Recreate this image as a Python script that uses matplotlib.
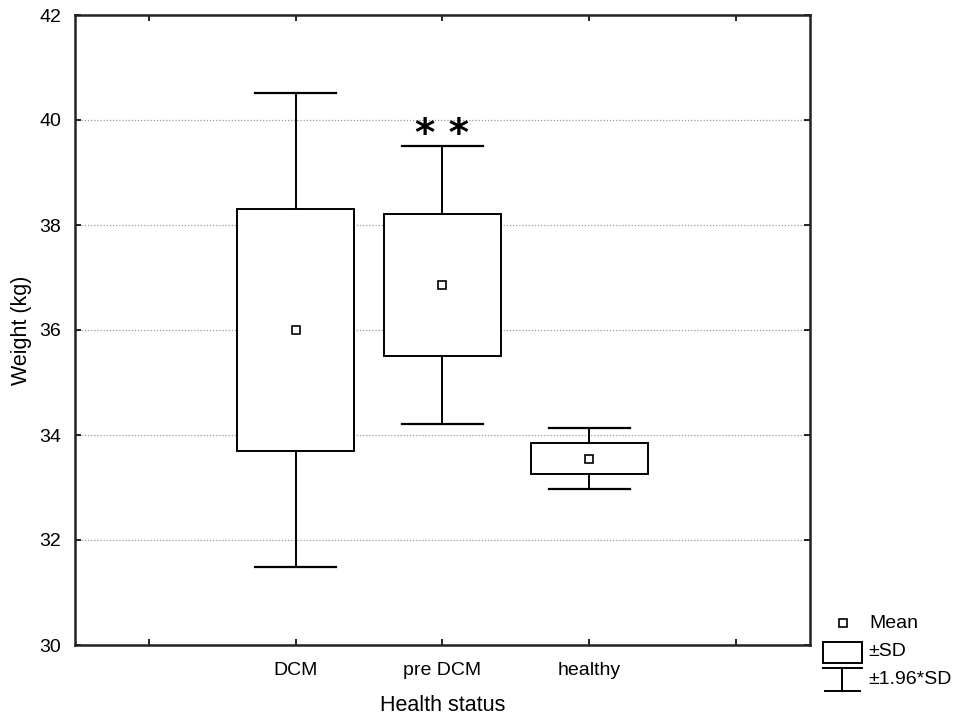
import matplotlib.pyplot as plt
from matplotlib.patches import Rectangle

plt.rcParams['font.family'] = ['Liberation Sans', 'DejaVu Sans']

groups = ['DCM', 'pre DCM', 'healthy']
means = [36.0, 36.85, 33.55]
sds = [2.3, 1.35, 0.3]
k = 1.96

fig = plt.figure(figsize=(9.64, 7.2), dpi=100)
ax = fig.add_axes([75 / 964, 75 / 720, 735 / 964, 630 / 720])

pos = [1, 2, 3]
box_w = 0.8
cap_w = 0.55
for x, m, s in zip(pos, means, sds):
    lo, hi = m - k * s, m + k * s
    ax.add_patch(Rectangle((x - box_w / 2, m - s), box_w, 2 * s,
                           facecolor='white', edgecolor='black', lw=1.4, zorder=3))
    ax.plot([x, x], [hi, m + s], color='black', lw=1.4, zorder=3)
    ax.plot([x, x], [m - s, lo], color='black', lw=1.4, zorder=3)
    ax.plot([x - cap_w / 2, x + cap_w / 2], [hi, hi], color='black', lw=1.6, zorder=3)
    ax.plot([x - cap_w / 2, x + cap_w / 2], [lo, lo], color='black', lw=1.6, zorder=3)
    ax.plot(x, m, marker='s', ms=6, mfc='white', mec='black', mew=1.2, zorder=4)

# significance mark over pre DCM
ax.text(2, means[1] + k * sds[1] - 0.14, '* *', ha='center', va='bottom',
        fontsize=28, fontweight='bold', family='DejaVu Sans')

ax.set_xlim(-0.5, 4.5)
ax.set_ylim(30, 42)
ax.set_xticks([0, 1, 2, 3, 4])
ax.set_xticklabels([''] + groups + [''])
ax.set_yticks([30, 32, 34, 36, 38, 40, 42])
ax.tick_params(direction='in', length=4, width=1.2, labelsize=14, colors='black',
               top=True, right=True)
ax.tick_params(axis='x', pad=12)
ax.tick_params(axis='y', pad=10)
for sp in ax.spines.values():
    sp.set_linewidth(1.8)
    sp.set_color('#222222')
ax.yaxis.grid(True, linestyle=(0, (1, 1.5)), color='#999999', lw=0.9)
ax.set_axisbelow(True)
ax.set_xlabel('Health status', fontsize=15.5, labelpad=12)
ax.set_ylabel('Weight (kg)', fontsize=15.5, labelpad=5)

# legend drawn in pixel coords
lg = fig.add_axes([0, 0, 1, 1], facecolor='none')
lg.set_xlim(0, 964)
lg.set_ylim(720, 0)
lg.axis('off')
lg.plot(843, 623, marker='s', ms=6, mfc='white', mec='black', mew=1.2)
lg.text(869, 623, 'Mean', va='center', fontsize=14)
lg.add_patch(Rectangle((823, 642), 39, 21, facecolor='white', edgecolor='black', lw=1.4))
lg.text(868, 652, '±SD', va='center', fontsize=14)
lg.plot([823, 862], [668, 668], color='black', lw=1.4)
lg.plot([842, 842], [668, 691], color='black', lw=1.4)
lg.plot([825, 860], [691, 691], color='black', lw=1.4)
lg.text(868, 680, '±1.96*SD', va='center', fontsize=14)

fig.savefig('out.png', dpi=100)
